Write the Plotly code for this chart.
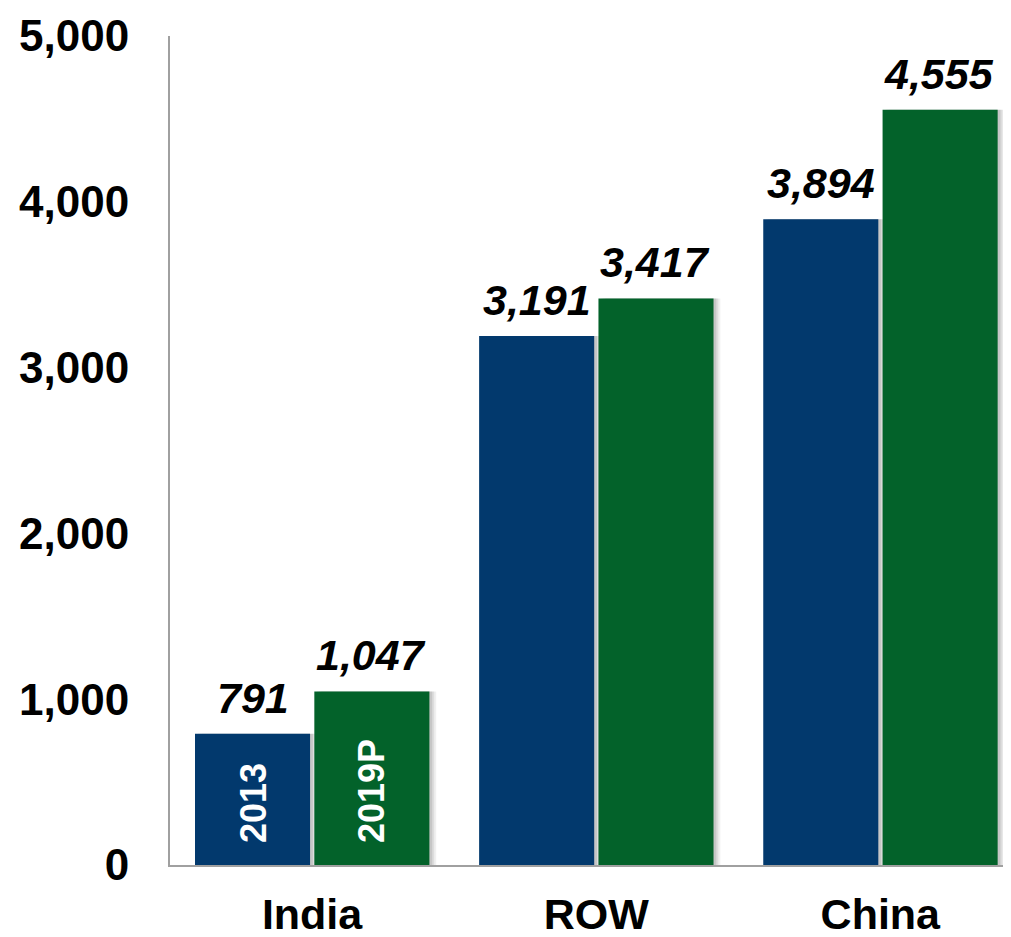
import plotly.graph_objects as go

categories = ["India", "ROW", "China"]
series_names = ["2013", "2019P"]
values_2013 = [791, 3191, 3894]
values_2019 = [1047, 3417, 4555]
y_ticks = [0, 1000, 2000, 3000, 4000, 5000]
y_tick_labels = ["0", "1,000", "2,000", "3,000", "4,000", "5,000"]

BLUE = "#02396D"
GREEN = "#03622A"
FONT = "Liberation Sans, Arial, sans-serif"
BW = 0.405

fig = go.Figure()

# soft drop shadows
for vals, off in [(values_2013, -0.412), (values_2019, 0.008)]:
    for dx, op in [(0.024, 0.06), (0.017, 0.08), (0.010, 0.10)]:
        fig.add_trace(go.Bar(x=categories, y=vals, width=BW, offset=off + dx,
                             marker=dict(color=f"rgba(0,0,0,{op})", line=dict(width=0)),
                             hoverinfo="skip", showlegend=False))

fig.add_trace(go.Bar(x=categories, y=values_2013, name=series_names[0], width=BW, offset=-0.412,
                     marker=dict(color=BLUE, line=dict(width=0)), showlegend=False))
fig.add_trace(go.Bar(x=categories, y=values_2019, name=series_names[1], width=BW, offset=0.008,
                     marker=dict(color=GREEN, line=dict(width=0)), showlegend=False))

ann = []
for cat, v1, v2 in zip(categories, values_2013, values_2019):
    for v, xs in [(v1, -59), (v2, 59)]:
        ann.append(dict(x=cat, y=v, xref="x", yref="y", xshift=xs, yshift=10,
                        yanchor="bottom", xanchor="center", showarrow=False,
                        text=f"<b><i>{v:,}</i></b>",
                        font=dict(family=FONT, size=43, color="black")))

for name, xs in zip(series_names, [-59, 59]):
    ann.append(dict(x=categories[0], y=0, xref="x", yref="y", xshift=xs, yshift=20,
                    yanchor="bottom", xanchor="center", showarrow=False, textangle=-90,
                    text=f"<b>{name}</b>", font=dict(family=FONT, size=36, color="white")))

# the page body adds an 8px margin, so the figure is sized to fit the window
fig.update_layout(
    barmode="overlay",
    width=1003, height=929,
    margin=dict(l=162, r=0, t=28, b=72),
    plot_bgcolor="white", paper_bgcolor="white",
    annotations=ann,
    xaxis=dict(range=[-0.5, 2.46], showline=True, linecolor="#A0A0A0", linewidth=2,
               ticks="", showgrid=False, zeroline=False, ticklabelstandoff=10,
               automargin=False,
               tickfont=dict(family=FONT, size=43, color="black", weight="bold")),
    yaxis=dict(range=[0, 5000], tickvals=y_ticks, ticktext=y_tick_labels, showline=True,
               linecolor="#A0A0A0", linewidth=2, ticks="", showgrid=False, zeroline=False,
               ticklabelstandoff=30, automargin=False,
               tickfont=dict(family=FONT, size=44, color="black", weight="bold")),
)

fig.write_html("out.html")
